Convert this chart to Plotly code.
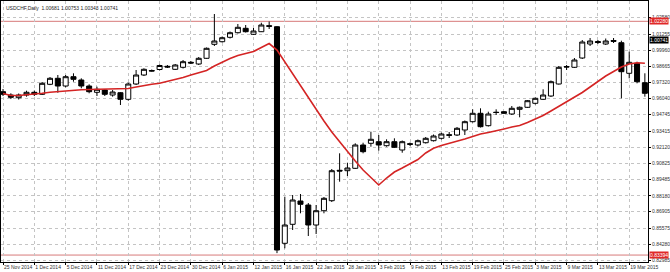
import plotly.graph_objects as go

# ---- data ----
date_labels = ["25 Nov 2014", "1 Dec 2014", "5 Dec 2014", "11 Dec 2014", "17 Dec 2014",
               "23 Dec 2014", "30 Dec 2014", "6 Jan 2015", "12 Jan 2015", "16 Jan 2015",
               "22 Jan 2015", "28 Jan 2015", "3 Feb 2015", "9 Feb 2015", "13 Feb 2015",
               "19 Feb 2015", "25 Feb 2015", "3 Mar 2015", "9 Mar 2015", "13 Mar 2015",
               "19 Mar 2015"]
label_every = 4

opens = [0.96593, 0.96326, 0.96108, 0.96326, 0.96544, 0.96383, 0.97191, 0.97676, 0.97053, 0.97805,
         0.97538, 0.97053, 0.96544, 0.96730, 0.96326, 0.96512, 0.95979, 0.97215, 0.97942, 0.98306,
         0.98387, 0.98645, 0.98403, 0.98564, 0.98968, 0.98831, 0.99292, 1.00423, 1.00633, 1.00988,
         1.01360, 1.01716, 1.01231, 1.01441, 1.01926, 1.01845, 0.84344, 0.85879, 0.87761, 0.87438,
         0.85822, 0.86977, 0.87786, 0.90242, 0.90210, 0.90404, 0.92286, 0.92424, 0.92553, 0.92230,
         0.92553, 0.91882, 0.92391, 0.92286, 0.92472, 0.92634, 0.92828, 0.93110, 0.93094, 0.93498,
         0.94169, 0.94848, 0.93846, 0.94936, 0.94977, 0.94791, 0.95171, 0.95332, 0.95656, 0.95979,
         0.96245, 0.97215, 0.98629, 0.98564, 0.99316, 1.00447, 1.00649, 1.00447, 1.00730, 1.00552,
         0.98080, 0.98887, 0.97320]
highs = [0.96811, 0.96464, 0.96447, 0.96674, 0.96690, 0.97377, 0.97781, 0.97942, 0.97942, 0.98079,
         0.97676, 0.97191, 0.96997, 0.96787, 0.96730, 0.96569, 0.97320, 0.98346, 0.98484, 0.98386,
         0.98791, 0.98750, 0.98831, 0.99154, 0.99073, 0.99397, 1.00164, 1.02871, 1.01053, 1.01457,
         1.02063, 1.01982, 1.01740, 1.02168, 1.02265, 1.01900, 0.88109, 0.88246, 0.88327, 0.87600,
         0.87438, 0.88084, 0.90347, 0.91615, 0.90856, 0.92424, 0.92472, 0.93361, 0.93094, 0.92747,
         0.92828, 0.92650, 0.92488, 0.92731, 0.92933, 0.93135, 0.93296, 0.93337, 0.93741, 0.94266,
         0.95171, 0.95252, 0.94977, 0.95171, 0.95033, 0.95437, 0.95397, 0.95922, 0.96124, 0.96787,
         0.97498, 0.98670, 0.98750, 0.99316, 1.00770, 1.00932, 1.00770, 1.00892, 1.00932, 1.00714,
         0.99825, 0.99017, 0.98079]
lows = [0.96245, 0.95999, 0.95963, 0.96189, 0.96245, 0.96326, 0.97126, 0.96512, 0.96948, 0.97401,
        0.96868, 0.96464, 0.96245, 0.96245, 0.96189, 0.95518, 0.95866, 0.97134, 0.97861, 0.98225,
        0.98306, 0.98508, 0.98346, 0.98467, 0.98831, 0.98750, 0.99251, 1.00285, 1.00568, 1.00891,
        1.01295, 1.01376, 1.01174, 1.01417, 1.01659, 0.83550, 0.83940, 0.85419, 0.86767, 0.84933,
        0.85095, 0.86767, 0.87681, 0.89321, 0.89781, 0.90347, 0.91615, 0.92149, 0.91826, 0.92149,
        0.92044, 0.91664, 0.92205, 0.92165, 0.92407, 0.92569, 0.92731, 0.92852, 0.93013, 0.93094,
        0.94104, 0.93700, 0.93781, 0.94710, 0.94791, 0.94710, 0.94524, 0.95276, 0.95559, 0.95922,
        0.96165, 0.97175, 0.98346, 0.98508, 0.99235, 1.00285, 1.00447, 1.00366, 1.00528, 0.96060,
        0.97676, 0.97272, 0.96189]
closes = [0.96383, 0.96140, 0.96326, 0.96544, 0.96383, 0.97272, 0.97676, 0.97053, 0.97805, 0.97595,
          0.97053, 0.96593, 0.96787, 0.96383, 0.96569, 0.95979, 0.97215, 0.97942, 0.98403, 0.98265,
          0.98710, 0.98589, 0.98750, 0.99017, 0.98912, 0.99292, 1.00100, 1.00690, 1.00956, 1.01360,
          1.01796, 1.01441, 1.01497, 1.01982, 1.01877, 0.83802, 0.85822, 0.87842, 0.87494, 0.85822,
          0.86977, 0.87979, 0.90210, 0.90185, 0.90428, 0.92286, 0.91745, 0.92747, 0.92286, 0.92553,
          0.92101, 0.92553, 0.92343, 0.92634, 0.92828, 0.93013, 0.93175, 0.93078, 0.93636, 0.94169,
          0.94848, 0.93765, 0.94791, 0.94912, 0.94848, 0.95252, 0.95332, 0.95866, 0.96060, 0.96326,
          0.97401, 0.98564, 0.98589, 0.99154, 1.00609, 1.00690, 1.00568, 1.00690, 1.00665, 0.98209,
          0.98968, 0.97401, 0.96464]
ma_values = [0.96447, 0.96286, 0.96286, 0.96326, 0.96407, 0.96464, 0.96544, 0.96609, 0.96674, 0.96714,
             0.96746, 0.96771, 0.96787, 0.96795, 0.96803, 0.96811, 0.96851, 0.96973, 0.97094, 0.97191,
             0.97272, 0.97417, 0.97579, 0.97740, 0.97942, 0.98144, 0.98306, 0.98669, 0.98993, 0.99275,
             0.99518, 0.99679, 0.99841, 1.00164, 1.00487, 0.99962, 0.98993, 0.98023, 0.97053, 0.96084,
             0.95114, 0.94225, 0.93337, 0.92529, 0.91721, 0.90993, 0.90266, 0.89620, 0.89054, 0.89620,
             0.90105, 0.90428, 0.90751, 0.91115, 0.91640, 0.92020, 0.92246, 0.92407, 0.92569, 0.92771,
             0.92973, 0.93175, 0.93296, 0.93417, 0.93579, 0.93741, 0.93862, 0.94104, 0.94387, 0.94670,
             0.95033, 0.95397, 0.95761, 0.96124, 0.96528, 0.96973, 0.97417, 0.97861, 0.98225, 0.98589,
             0.98831, 0.98928, 0.98896]

price_ticks = [1.02580, 1.01255, 0.99960, 0.98665, 0.97320, 0.96040, 0.94745, 0.93415, 0.92120,
               0.90825, 0.89485, 0.88180, 0.86905, 0.85575, 0.84280, 0.82985]
upper_level = 1.02280
lower_level = 0.83394
current_price = 1.00741
title_text = "USDCHF,Daily  1.00681 1.00753 1.00343 1.00741"

bars = list(range(len(opens)))
tick_vals = [i * label_every for i in range(len(date_labels))]

FONT = "Liberation Sans"
fig = go.Figure()

fig.add_trace(go.Candlestick(
    x=bars, open=opens, high=highs, low=lows, close=closes,
    increasing=dict(line=dict(color="black", width=1), fillcolor="white"),
    decreasing=dict(line=dict(color="black", width=1), fillcolor="black"),
    whiskerwidth=0, showlegend=False, hoverinfo="skip",
))
fig.add_trace(go.Scatter(
    x=bars, y=ma_values, mode="lines",
    line=dict(color="#d42424", width=1.6), showlegend=False, hoverinfo="skip",
))

for lvl in (upper_level, lower_level):
    fig.add_shape(type="line", xref="paper", x0=0, x1=1, yref="y", y0=lvl, y1=lvl,
                  line=dict(color="#d77a7a", width=1), layer="below")

def price_box(val, bg):
    fig.add_annotation(xref="paper", x=1, xanchor="left", xshift=1, yref="y", y=val,
                       text=f"{val:.5f}", showarrow=False, bgcolor=bg, borderpad=0,
                       font=dict(family=FONT, size=5, color="white"))

price_box(upper_level, "#e02828")
price_box(lower_level, "#e02828")
price_box(current_price, "black")

fig.add_annotation(xref="paper", yref="paper", x=0, y=1, xanchor="left", yanchor="top",
                   xshift=3, yshift=-2, text=title_text, showarrow=False,
                   font=dict(family=FONT, size=5, color="#222222"))

fig.update_layout(
    width=670, height=272,
    margin=dict(l=1, r=22, t=1, b=10, autoexpand=False),
    paper_bgcolor="white", plot_bgcolor="white",
    boxgap=0.2, boxgroupgap=0.2,
    font=dict(family=FONT, size=5, color="#333333"),
    xaxis=dict(
        range=[-0.26, 82.4], tickmode="array", tickvals=tick_vals, ticktext=date_labels,
        ticklabelposition="outside right", tickangle=0, ticks="outside", ticklen=2,
        tickcolor="black",
        showgrid=True, gridcolor="#c4c4c4", griddash="dot", gridwidth=1,
        showline=True, linecolor="black", linewidth=1, mirror=True, automargin=False,
        zeroline=False, rangeslider=dict(visible=False), fixedrange=True,
    ),
    yaxis=dict(
        range=[0.82833, 1.03922], side="right", tickmode="array", tickvals=price_ticks,
        ticktext=[f"{v:.5f}" for v in price_ticks], ticks="outside", ticklen=2,
        tickcolor="black", showgrid=True, gridcolor="#c4c4c4", griddash="dot", gridwidth=1,
        showline=True, linecolor="black", linewidth=1, mirror=True, zeroline=False,
        automargin=False, fixedrange=True,
    ),
)

fig.write_html("out.html")
